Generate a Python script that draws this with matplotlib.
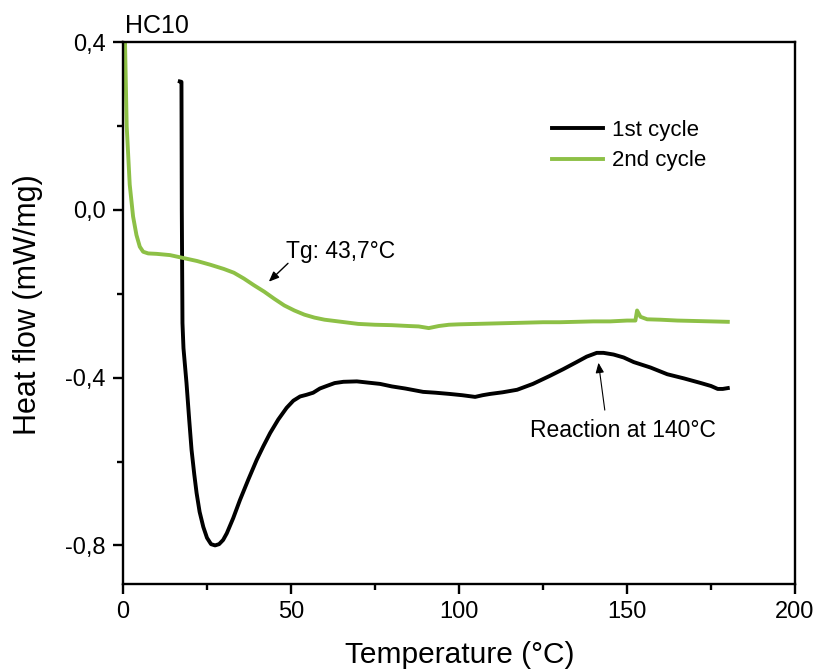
import numpy as np
import matplotlib
matplotlib.use('Agg')
import matplotlib.pyplot as plt
from matplotlib.ticker import MultipleLocator, FuncFormatter

plt.rcParams['font.family'] = ['Liberation Sans', 'DejaVu Sans']

# 1st cycle (black)
temp_1 = [16.9, 17.4, 17.5, 17.7, 18.0, 18.9, 19.7, 20.4, 21.2, 21.9, 22.8, 23.9, 25.0, 26.2,
          27.4, 28.6, 29.8, 30.9, 32.8, 34.8, 37.3, 39.8, 41.8, 43.8, 46.2, 48.7, 50.7, 52.7,
          54.6, 56.6, 58.6, 60.6, 63.0, 65.6, 69.6, 73.0, 76.5, 80.0, 84.0, 89.3, 93.0, 97.3,
          101.0, 104.8, 107.0, 109.2, 113.0, 117.3, 122.0, 127.0, 131.0, 135.0, 138.0, 141.0,
          143.0, 146.0, 149.0, 152.0, 157.0, 162.0, 167.0, 172.0, 175.0, 177.0, 178.5, 180.0]
hf_1 = [0.306, 0.305, 0.0, -0.27, -0.33, -0.413, -0.5, -0.572, -0.63, -0.675, -0.72, -0.756,
        -0.782, -0.797, -0.80, -0.797, -0.787, -0.771, -0.735, -0.692, -0.643, -0.596, -0.563,
        -0.532, -0.5, -0.472, -0.455, -0.445, -0.441, -0.436, -0.426, -0.42, -0.413, -0.41,
        -0.409, -0.412, -0.415, -0.421, -0.426, -0.434, -0.436, -0.439, -0.442, -0.446, -0.442,
        -0.439, -0.435, -0.429, -0.415, -0.396, -0.38, -0.363, -0.35, -0.341, -0.341, -0.345,
        -0.352, -0.363, -0.376, -0.392, -0.402, -0.413, -0.42, -0.427, -0.427, -0.425]

# 2nd cycle (green)
temp_2 = [0.3, 0.6, 1.1, 2.0, 3.0, 4.0, 5.0, 6.0, 7.5, 10, 14, 18, 22, 26, 30, 33, 36, 39, 42,
          45, 48, 51, 54, 57, 60, 65, 70, 75, 80, 85, 88, 91, 94, 97, 100, 105, 110, 115, 120,
          125, 130, 135, 140, 145, 150, 152.5, 153, 154, 156, 160, 165, 170, 175, 180]
hf_2 = [0.40, 0.398, 0.199, 0.06, -0.016, -0.06, -0.088, -0.1, -0.104, -0.105, -0.108, -0.115,
        -0.122, -0.131, -0.141, -0.15, -0.164, -0.18, -0.195, -0.212, -0.228, -0.24, -0.25,
        -0.257, -0.262, -0.267, -0.272, -0.274, -0.275, -0.277, -0.278, -0.282, -0.277, -0.274,
        -0.273, -0.272, -0.271, -0.27, -0.269, -0.268, -0.268, -0.267, -0.266, -0.266, -0.264,
        -0.264, -0.24, -0.255, -0.261, -0.262, -0.264, -0.265, -0.266, -0.267]

verde = '#8DC046'

fig = plt.figure(figsize=(8.19, 6.70), dpi=100)
ax = fig.add_axes([123/819, 1 - 584/670, 672/819, 542/670])

ax.plot(temp_1, hf_1, color='black', lw=2.8, label='1st cycle', solid_joinstyle='round')
ax.plot(temp_2, hf_2, color=verde, lw=2.8, label='2nd cycle', solid_joinstyle='round')

ax.set_xlim(0, 200)
ax.set_ylim(-0.892, 0.4)
ax.xaxis.set_major_locator(MultipleLocator(50))
ax.xaxis.set_minor_locator(MultipleLocator(25))
ax.yaxis.set_major_locator(MultipleLocator(0.4))
ax.yaxis.set_minor_locator(MultipleLocator(0.2))
ax.yaxis.set_major_formatter(FuncFormatter(lambda v, p: f'{v:.1f}'.replace('.', ',')))

for s in ax.spines.values():
    s.set_linewidth(1.7)
ax.tick_params(which='major', direction='out', length=7.5, width=1.7)
ax.tick_params(which='minor', direction='out', length=4, width=1.7)
ax.tick_params(axis='x', labelsize=17, pad=5)
ax.tick_params(axis='y', labelsize=17, pad=5)

fig.text(460/819, 1 - 655/670, 'Temperature (°C)', fontsize=21.5, ha='center', va='center')
fig.text(28/819, 1 - 305/670, 'Heat flow (mW/mg)', fontsize=22, ha='center', va='center', rotation=90)

ax.text(0.6, 0.422, 'HC10', fontsize=18, va='baseline', ha='left', clip_on=False)

ax.legend(loc='upper left', bbox_to_anchor=(0.638, 0.856), frameon=False, fontsize=16,
          handlelength=2.3, handletextpad=0.4, labelspacing=0.42, borderpad=0, borderaxespad=0)

# anotaciones
ax.annotate('', xy=(42.8, -0.176), xytext=(49.7, -0.123),
            arrowprops=dict(arrowstyle='-|>,head_length=0.6,head_width=0.25', color='black', lw=1))
ax.text(48.5, -0.1145, 'Tg: 43,7°C', fontsize=16.5, ha='left', va='baseline')

ax.annotate('', xy=(141.4, -0.358), xytext=(143.5, -0.484),
            arrowprops=dict(arrowstyle='-|>,head_length=0.6,head_width=0.25', color='black', lw=0.8))
ax.text(148.8, -0.525, 'Reaction at 140°C', fontsize=16.5, ha='center', va='center')

plt.savefig('out.png', dpi=100)
